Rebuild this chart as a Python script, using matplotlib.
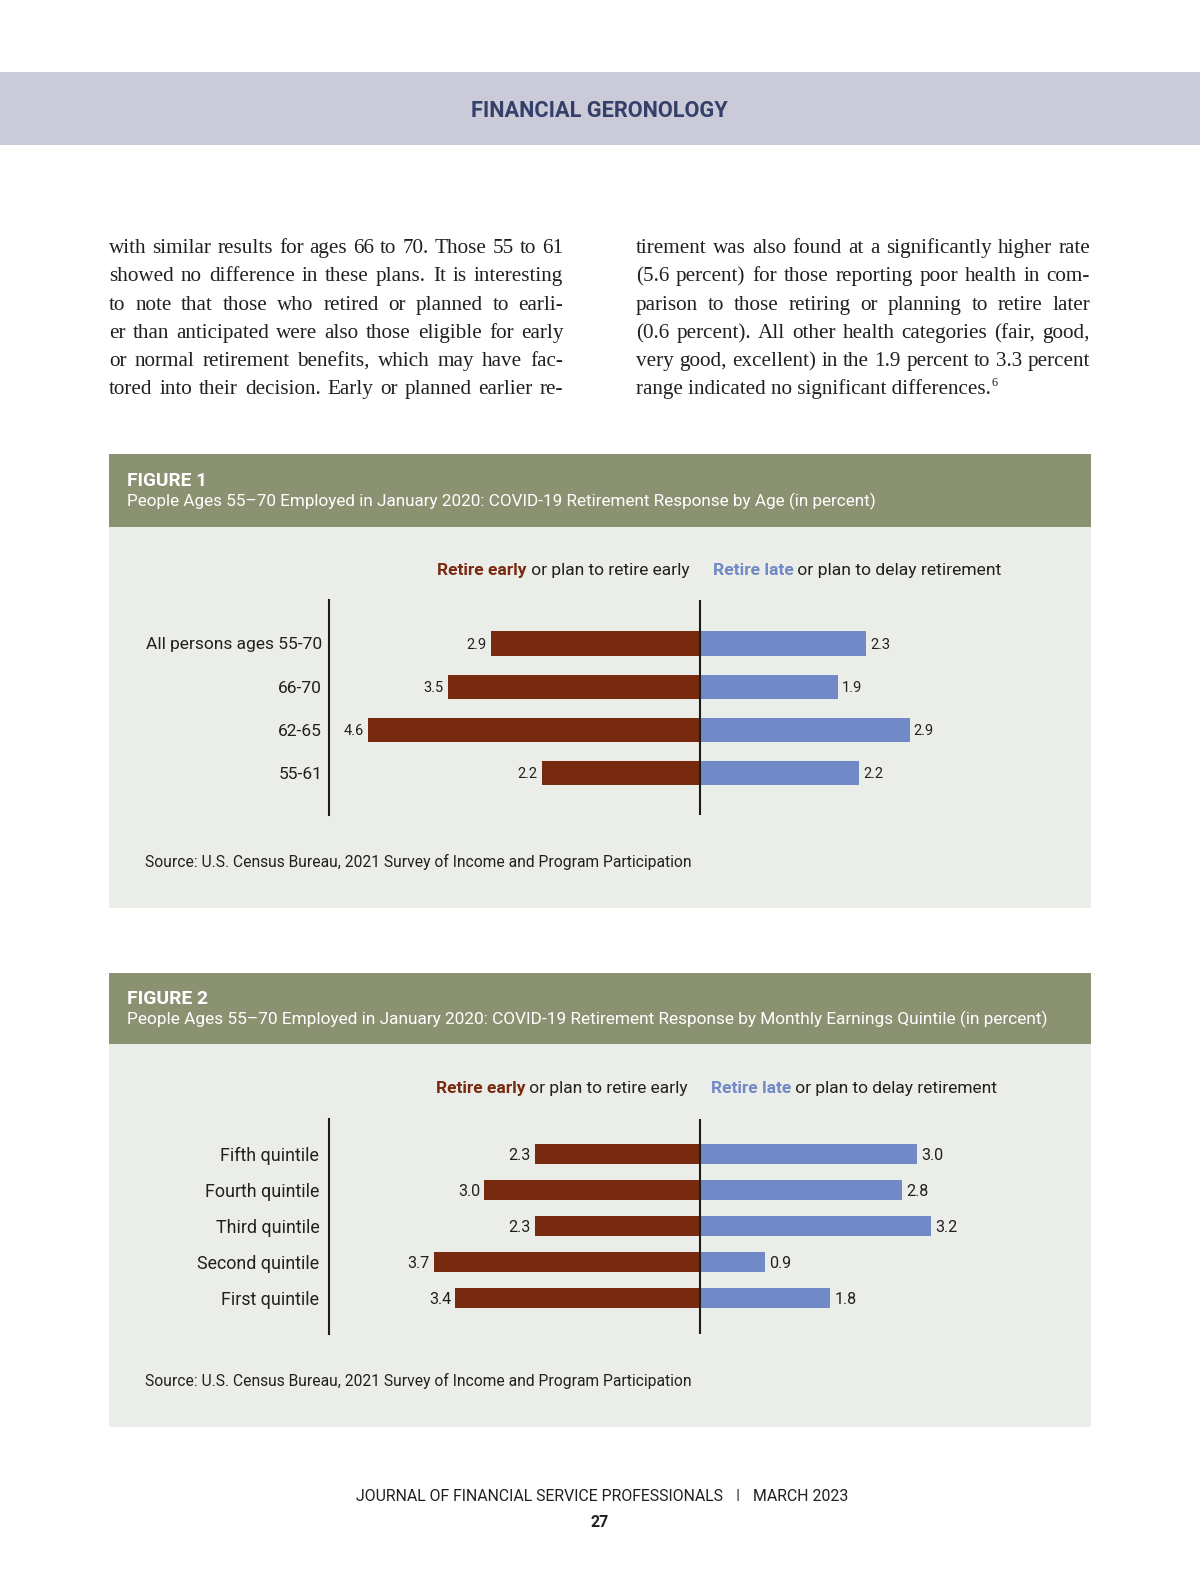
import matplotlib
matplotlib.use('Agg')
import matplotlib.pyplot as plt
from matplotlib.patches import Rectangle

# ---------------- data ----------------
fig1_categories = ["All persons ages 55-70", "66-70", "62-65", "55-61"]
fig1_early = [2.9, 3.5, 4.6, 2.2]
fig1_late = [2.3, 1.9, 2.9, 2.2]

fig2_categories = ["Fifth quintile", "Fourth quintile", "Third quintile",
                   "Second quintile", "First quintile"]
fig2_early = [2.3, 3.0, 2.3, 3.7, 3.4]
fig2_late = [3.0, 2.8, 3.2, 0.9, 1.8]

left_column = [
    "with similar results for ages 66 to 70. Those 55 to 61",
    "showed no difference in these plans. It is interesting",
    "to note that those who retired or planned to earli-",
    "er than anticipated were also those eligible for early",
    "or normal retirement benefits, which may have fac-",
    "tored into their decision. Early or planned earlier re-",
]
right_column = [
    "tirement was also found at a significantly higher rate",
    "(5.6 percent) for those reporting poor health in com-",
    "parison to those retiring or planning to retire later",
    "(0.6 percent). All other health categories (fair, good,",
    "very good, excellent) in the 1.9 percent to 3.3 percent",
    "range indicated no significant differences.",
]

fig1_title = "People Ages 55\u201370 Employed in January 2020: COVID-19 Retirement Response by Age (in percent)"
fig2_title = "People Ages 55\u201370 Employed in January 2020: COVID-19 Retirement Response by Monthly Earnings Quintile (in percent)"
source_text = "Source: U.S. Census Bureau, 2021 Survey of Income and Program Participation"

# ---------------- style ----------------
BROWN = "#782a10"
BLUE = "#7189c6"
OLIVE = "#8a9271"
PANEL = "#eaede8"
BAND = "#cbcad8"
NAVY = "#34406a"
INK = "#231f20"
SANS = ["Roboto", "DejaVu Sans"]
COND = ["Liberation Sans Narrow", "Roboto", "DejaVu Sans"]
SERIF = ["Liberation Serif", "DejaVu Serif"]

W, H = 1189.0, 1568.0
fig = plt.figure(figsize=(12, 15.82), dpi=100)
page = fig.add_axes([0, 0, 1, 1])
page.set_xlim(0, W)
page.set_ylim(H, 0)
page.axis('off')
R = fig.canvas.get_renderer()
PX2D = W / 1200.0


def twidth(s, size, **kw):
    t = page.text(0, 0, s, fontsize=size, **kw)
    w = t.get_window_extent(renderer=R).width * PX2D
    t.remove()
    return w


def fit(s, target, **kw):
    return 10.0 * target / twidth(s, 10, **kw)


def put(x, y, s, target=None, size=None, ha='left', **kw):
    if size is None:
        size = fit(s, target, **kw)
    page.text(x, y, s, fontsize=size, ha=ha, va='baseline', **kw)
    return size


# header band
page.add_patch(Rectangle((0, 71), W, 73, color=BAND, lw=0))
put(594, 116, "FINANCIAL GERONOLOGY", target=254, ha='center',
    family=SANS, weight='bold', color=NAVY)

# ---------------- body text (justified) ----------------
col_w = 450
kw_serif = dict(family=SERIF, color=INK)
bsize = min(fit(l, col_w, **kw_serif) for l in left_column + right_column[:-1]) * 0.995


def set_column(x0, lines, last_justified):
    for i, line in enumerate(lines):
        y = 251 + 28 * i
        if i == len(lines) - 1 and not last_justified:
            page.text(x0, y, line, fontsize=bsize, va='baseline', **kw_serif)
            end = x0 + twidth(line, bsize, **kw_serif)
            page.text(end + 1, y - 8, "6", fontsize=bsize * 0.58, va='baseline', **kw_serif)
            continue
        words = line.split(' ')
        ws = [twidth(w, bsize, **kw_serif) for w in words]
        gap = (col_w - sum(ws)) / (len(words) - 1)
        x = x0
        for w, wd in zip(words, ws):
            page.text(x, y, w, fontsize=bsize, va='baseline', **kw_serif)
            x += wd + gap


set_column(108, left_column, True)
set_column(630, right_column, False)


# ---------------- figures ----------------
def legend(y, x_early, end_early, x_late, end_late, family):
    s1, s2 = "Retire early", " or plan to retire early"
    tot = twidth(s1, 10, family=family, weight='bold') + twidth(s2, 10, family=family)
    size = 10 * (end_early - x_early) / tot
    put(x_early, y, s1, size=size, family=family, weight='bold', color=BROWN)
    put(x_early + twidth(s1, size, family=family, weight='bold'), y, s2, size=size,
        family=family, color=INK)
    s3, s4 = "Retire late", " or plan to delay retirement"
    tot = twidth(s3, 10, family=family, weight='bold') + twidth(s4, 10, family=family)
    size2 = 10 * (end_late - x_late) / tot
    put(x_late, y, s3, size=size2, family=family, weight='bold', color=BLUE)
    put(x_late + twidth(s3, size2, family=family, weight='bold'), y, s4, size=size2,
        family=family, color=INK)


def chart(x0, x1, y0, y1, cats, early, late, px_per_unit, ylim, cat_font, cat_size,
          val_font, val_size, pad):
    ax = fig.add_axes([x0 / W, 1 - y1 / H, (x1 - x0) / W, (y1 - y0) / H])
    ax.patch.set_alpha(0)
    pos = list(range(len(cats)))
    ax.barh(pos, [-v for v in early], height=0.56, color=BROWN, lw=0, zorder=2)
    ax.barh(pos, late, height=0.56, color=BLUE, lw=0, zorder=2)
    ax.axvline(0, color="#1c1c1c", lw=1.5, zorder=3)
    ax.set_xlim((x0 - 694) / px_per_unit, (x1 - 694) / px_per_unit)
    ax.set_ylim(ylim)
    for s in ['top', 'right', 'bottom']:
        ax.spines[s].set_visible(False)
    ax.spines['left'].set_linewidth(1.5)
    ax.spines['left'].set_color("#1c1c1c")
    ax.set_xticks([])
    ax.set_yticks(pos)
    ax.set_yticklabels(cats, fontsize=cat_size, family=cat_font, color=INK)
    ax.tick_params(axis='y', length=0, pad=pad)
    for i, v in enumerate(early):
        ax.annotate(f"{v:.1f}", (-v, i), xytext=(-3, 0), textcoords='offset points',
                    ha='right', va='center_baseline', fontsize=val_size,
                    family=val_font, color=INK)
    for i, v in enumerate(late):
        ax.annotate(f"{v:.1f}", (v, i), xytext=(3, 0), textcoords='offset points',
                    ha='left', va='center_baseline', fontsize=val_size,
                    family=val_font, color=INK)
    return ax


# Figure 1
page.add_patch(Rectangle((108, 450), 973, 72, color=OLIVE, lw=0))
page.add_patch(Rectangle((108, 522), 973, 378, color=PANEL, lw=0))
put(126, 482, "FIGURE 1", target=79, family=SANS, weight='bold', color='white')
put(126, 502, fig1_title, target=747, family=SANS, color='white')
legend(570, 433, 684, 706, 992, SANS)
cs1 = fit(fig1_categories[0], 175, family=SANS)
vs1 = fit("4.6", 20, family=SANS)
chart(326, 1081, 595, 808, fig1_categories, fig1_early, fig1_late, 71.5,
      (3.98, -1.0), SANS, cs1, SANS, vs1, 5)
put(144, 859, source_text, target=540, family=SANS, color=INK)

# Figure 2
page.add_patch(Rectangle((108, 964), 973, 71, color=OLIVE, lw=0))
page.add_patch(Rectangle((108, 1035), 973, 379, color=PANEL, lw=0))
put(126, 995, "FIGURE 2", target=80, family=SANS, weight='bold', color='white')
put(126, 1015, fig2_title, target=915, family=SANS, color='white')
legend(1083, 432, 683, 704, 989, SANS)
cs2 = fit(fig2_categories[3], 121, family=COND)
vs2 = fit("3.0", 22, family=COND)
chart(326, 1081, 1109, 1322, fig2_categories, fig2_early, fig2_late, 71.4,
      (5.01, -0.99), COND, cs2, COND, vs2, 7)
put(144, 1374, source_text, target=540, family=SANS, color=INK)

# footer
fs = put(353, 1488, "JOURNAL OF FINANCIAL SERVICE PROFESSIONALS", target=363,
         family=SANS, color=INK)
put(731, 1488, "I", size=fs, ha='center', family=SANS, color="#555555")
put(746, 1488, "MARCH 2023", size=fs, family=SANS, color=INK)
put(594, 1513, "27", size=fs, ha='center', family=SANS, weight='bold', color=INK)

fig.savefig("out.png", dpi=100, facecolor='white')
